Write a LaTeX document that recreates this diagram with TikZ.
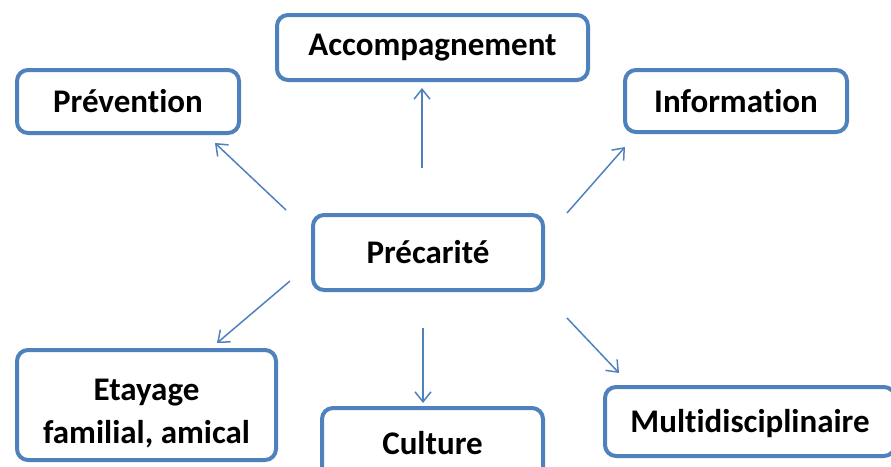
\documentclass[tikz,border=0pt]{standalone}
\usepackage{fontspec}
\setmainfont[Ligatures={NoCommon,NoRare,NoContextual},RawFeature={-liga,-dlig,-clig}]{Carlito}
\usetikzlibrary{arrows.meta}
\definecolor{boxblue}{HTML}{4F81BD}
\tikzset{
  conbox/.style={draw=boxblue, line width=4pt, rounded corners=11pt, fill=white,
    inner sep=0pt, align=center, font=\fontsize{33}{43}\selectfont\bfseries, text=black},
  conarrow/.style={draw=boxblue, line width=1.5pt, -{Straight Barb[length=10pt,width=16pt,line width=1.5pt]}}
}
\begin{document}
\begin{tikzpicture}[x=1pt,y=-1pt]
\useasboundingbox (0,0) rectangle (891,466);
\clip (0,0) rectangle (891,466);
\node[conbox, minimum width=311pt, minimum height=65pt] (acc) at (432.5,47.5) {Accompagnement};
\node[conbox, minimum width=222pt, minimum height=63pt] (prev) at (128,101.5) {Prévention};
\node[conbox, minimum width=222pt, minimum height=62pt] (info) at (736,101) {Information};
\node[conbox, minimum width=230pt, minimum height=75pt] (prec) at (428,252.5) {Précarité};
\node[conbox, minimum width=259pt, minimum height=110pt] (eta) at (146.5,405) {\rule{0pt}{38pt}Etayage\\familial, amical};
\node[conbox, minimum width=221pt, minimum height=70pt] (cul) at (432.5,443) {Culture};
\node[conbox, minimum width=290pt, minimum height=69pt] (mul) at (750,421.5) {\rule{0pt}{27pt}Multidisciplinaire};
% arrow end points
\coordinate (s1) at (286,210); \coordinate (e1) at (215,143);
\coordinate (s2) at (422,168); \coordinate (e2) at (422,88);
\coordinate (s3) at (567,213); \coordinate (e3) at (625,147);
\coordinate (s4) at (290,281); \coordinate (e4) at (217,343);
\coordinate (s5) at (423,328); \coordinate (e5) at (423,403);
\coordinate (s6) at (567,318); \coordinate (e6) at (619,373);
\draw[conarrow] (s1) -- (e1);
\draw[conarrow] (s2) -- (e2);
\draw[conarrow] (s3) -- (e3);
\draw[conarrow] (s4) -- (e4);
\draw[conarrow] (s5) -- (e5);
\draw[conarrow] (s6) -- (e6);
\end{tikzpicture}
\end{document}
